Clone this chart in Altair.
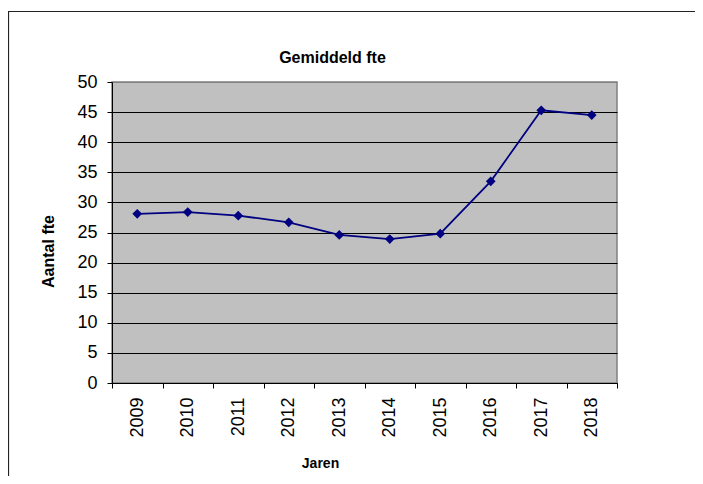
import altair as alt
import pandas as pd

years = ["2009", "2010", "2011", "2012", "2013", "2014", "2015", "2016", "2017", "2018"]
fte = [28.1, 28.4, 27.8, 26.7, 24.6, 23.9, 24.8, 33.5, 45.3, 44.5]
y_ticks = [0, 5, 10, 15, 20, 25, 30, 35, 40, 45, 50]
chart_title = ["Gemiddeld fte"]

df = pd.DataFrame({"jaar": years, "fte": fte})

FONT = "Liberation Sans"

x_enc = alt.X(
    "jaar:O",
    scale=alt.Scale(paddingInner=0, paddingOuter=0),
    axis=alt.Axis(
        title="Jaren",
        labelAngle=270,
        labelFontSize=18,
        labelFont=FONT,
        labelColor="black",
        labelPadding=9,
        tickBand="extent",
        tickSize=5,
        tickColor="black",
        domainColor="black",
        grid=False,
        titleFont=FONT,
        titleFontSize=14,
        titleFontWeight="bold",
        titleColor="black",
        titleX=208,
        titleY=80,
        titleBaseline="middle",
        titleAlign="center",
    ),
)
y_enc = alt.Y(
    "fte:Q",
    scale=alt.Scale(domain=[0, 50], nice=False, zero=True),
    axis=alt.Axis(
        title="Aantal fte",
        values=y_ticks,
        labelFontSize=18,
        labelFont=FONT,
        labelColor="black",
        labelPadding=10,
        tickSize=5,
        tickColor="black",
        domainColor="black",
        grid=True,
        gridColor=alt.condition("datum.value == 50", alt.value("#808080"), alt.value("black")),
        gridOpacity=1,
        gridWidth=1,
        titleFont=FONT,
        titleFontSize=16,
        titleFontWeight="bold",
        titleColor="black",
        titleAngle=270,
        titleX=-63.5,
        titleY=169,
        titleBaseline="middle",
        titleAlign="center",
    ),
)

line = alt.Chart(df).mark_line(
    color="#000080",
    strokeWidth=1.8,
    point=alt.OverlayMarkDef(shape="diamond", size=95, filled=True, color="#000080", opacity=1),
).encode(x=x_enc, y=y_enc)

title = alt.Chart(pd.DataFrame({"t": chart_title})).mark_text(
    font=FONT, fontSize=16, fontWeight="bold", color="black", baseline="middle", align="center"
).encode(text="t:N", x=alt.value(220.5), y=alt.value(-24))

frame = alt.Chart(pd.DataFrame({"a": [0]})).mark_rect(
    fill="transparent", stroke="#222222", strokeWidth=1.2
).encode(
    x=alt.value(-103.5), x2=alt.value(600), y=alt.value(-70.5), y2=alt.value(420)
)

chart = alt.layer(line, title, frame).properties(
    width=505,
    height=301,
    padding={"left": 104, "top": 74, "right": 78, "bottom": 93},
    autosize=alt.AutoSizeParams(type="none"),
    background="white",
).configure_view(fill="#C0C0C0", stroke="#808080", strokeWidth=1.5)

chart.save("out.html", embed_options={"renderer": "svg", "actions": False})
